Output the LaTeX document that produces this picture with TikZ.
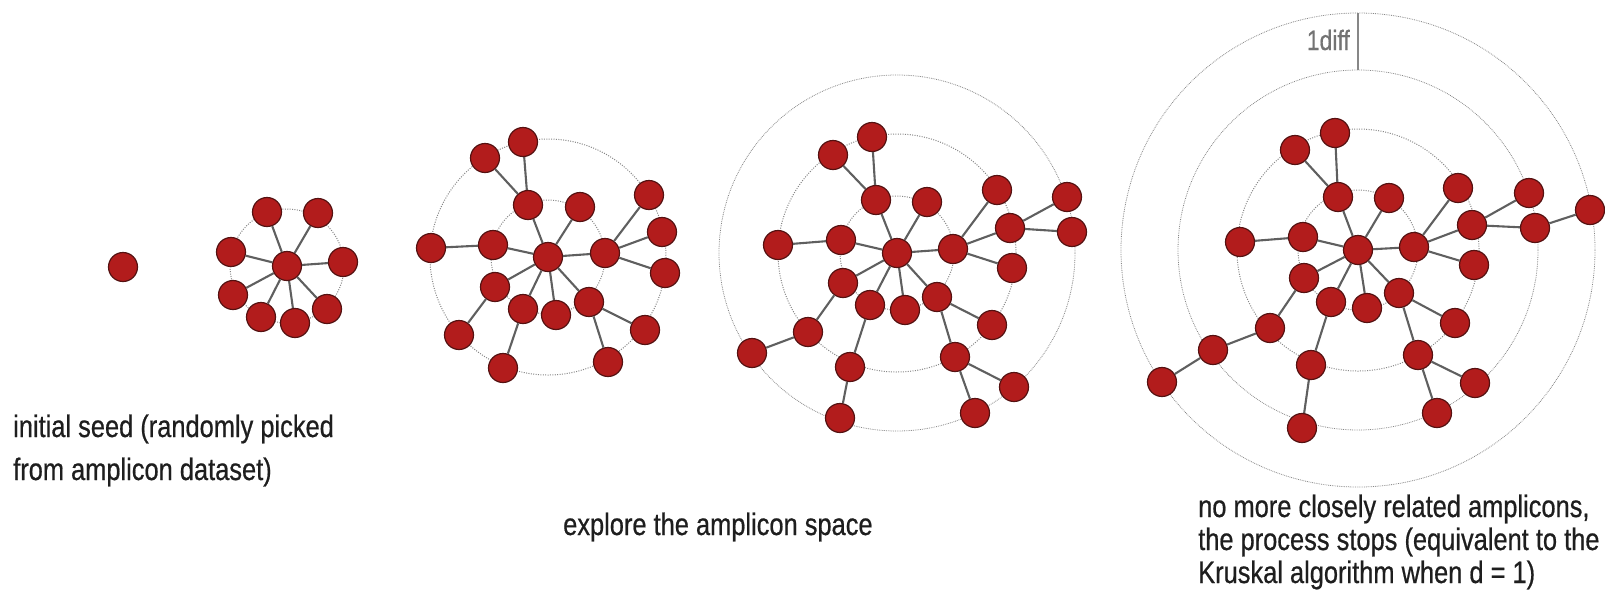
\documentclass[tikz,border=0pt]{standalone}
\usepackage{fontspec}
\usetikzlibrary{calc}
\setmainfont{Liberation Sans}[FakeStretch=0.82, FakeBold=0.6]
\definecolor{ampred}{RGB}{178,28,28}
\definecolor{ampdark}{RGB}{85,18,18}
\definecolor{edgegray}{RGB}{95,95,95}
\definecolor{ringgray}{RGB}{135,135,135}
\definecolor{txtgray}{RGB}{30,30,30}
\tikzset{
  amp/.style={circle, fill=ampred, draw=ampdark, line width=1.2pt, minimum size=29pt, inner sep=0pt},
  edge/.style={draw=edgegray, line width=2.1pt},
  ring/.style={draw=ringgray, line width=1pt, dash pattern=on 1pt off 1.4pt},
  outerring/.style={draw=ringgray, line width=0.8pt, dash pattern=on 0.8pt off 1pt},
  caption/.style={anchor=base west, inner sep=0pt, text=txtgray, font=\fontsize{31}{36}\selectfont},
}
\begin{document}
\begin{tikzpicture}[x=1pt,y=-1pt]
\useasboundingbox (0,0) rectangle (1605,600);

% centres for rings
\coordinate (c2) at (287,266);
\coordinate (c3) at (548,257);
\coordinate (c4) at (897,253);
\coordinate (c5) at (1358,250);

% rings
\draw[ring] (c2) circle (57);
\draw[ring] (c3) circle (57);
\draw[ring] (c3) circle (118);
\draw[ring] (c4) circle (57);
\draw[ring] (c4) circle (119);
\draw[outerring] (c4) circle (178);
\draw[ring] (c5) circle (60);
\draw[ring] (c5) circle (121);
\draw[outerring] (c5) circle (180);
\draw[outerring] (c5) circle (237);

% 1diff marker
\coordinate (d1) at ($(c5)+(0,-180)$);
\coordinate (d2) at ($(c5)+(0,-237)$);
\draw[draw=ringgray, line width=1.3pt] (d1) -- (d2);
\node[anchor=base east, inner sep=0pt, text=ringgray!85!black, font=\fontsize{28}{32}\selectfont] (diff) at (1350,50) {1diff};

% panel 1
\node[amp] (s) at (123,267) {};

% panel 2
\node[amp] (b0) at (287,266) {};
\foreach \n/\x/\y in {b1/267/212, b2/318/213, b3/231/252, b4/343/262, b5/233/295, b6/261/317, b7/295/323, b8/327/309}
  \node[amp] (\n) at (\x,\y) {};
\foreach \n in {b1,b2,b3,b4,b5,b6,b7,b8}
  \draw[edge] (b0) -- (\n);

% panel 3
\node[amp] (cC) at (548,257) {};
\foreach \n/\x/\y in {cup/528/205, cur/580/207, cl/493/245, cr/605/253, cll/495/287, cb1/523/309, cb2/556/315, clr/589/302,
  cotop/523/142, cotl/485/158, col/431/248, cor1/649/195, cor2/662/232, cor3/665/273, coll/459/335, cobl/503/368, cobr/608/362, corl/645/330}
  \node[amp] (\n) at (\x,\y) {};
\foreach \a/\b in {cC/cup, cC/cur, cC/cl, cC/cr, cC/cll, cC/cb1, cC/cb2, cC/clr,
  cup/cotop, cup/cotl, cl/col, cr/cor1, cr/cor2, cr/cor3, cll/coll, cb1/cobl, clr/cobr, clr/corl}
  \draw[edge] (\a) -- (\b);

% panel 4
\node[amp] (dC) at (897,253) {};
\foreach \n/\x/\y in {dup/876/200, dur/927/202, dl/841/240, dr/953/249, dll/843/283, db1/870/305, db2/905/310, dlr/937/297,
  dotop/872/137, dotl/833/155, dol/778/245, dor1/997/190, dorm/1010/228, dor3/1012/268, doll/808/332, dobl/850/367, dobrh/955/357, dorl/992/325,
  dtr1/1067/197, dtr2/1072/232, dtll/752/353, dtb/840/418, dtbr/975/413, dtrl/1014/387}
  \node[amp] (\n) at (\x,\y) {};
\foreach \a/\b in {dC/dup, dC/dur, dC/dl, dC/dr, dC/dll, dC/db1, dC/db2, dC/dlr,
  dup/dotop, dup/dotl, dl/dol, dr/dor1, dr/dorm, dr/dor3, dorm/dtr1, dorm/dtr2,
  dll/doll, doll/dtll, db1/dobl, dobl/dtb, dlr/dorl, dlr/dobrh, dobrh/dtbr, dobrh/dtrl}
  \draw[edge] (\a) -- (\b);

% panel 5
\node[amp] (eC) at (1358,250) {};
\foreach \n/\x/\y in {eup/1338/197, eur/1389/198, el/1303/237, er/1414/247, ell/1304/278, eb1/1331/302, eb2/1367/308, elr/1399/293,
  eotop/1335/133, eotl/1295/150, eol/1240/242, eor1/1458/188, eorm/1472/225, eor3/1474/265, eoll/1270/328, eobl/1311/365, eobrh/1418/355, eorl/1455/323,
  etr1/1529/193, etr2/1535/228, etll/1213/350, etb/1302/428, etbr/1437/413, etrl/1475/383,
  efll/1162/382, efr/1590/210}
  \node[amp] (\n) at (\x,\y) {};
\foreach \a/\b in {eC/eup, eC/eur, eC/el, eC/er, eC/ell, eC/eb1, eC/eb2, eC/elr,
  eup/eotop, eup/eotl, el/eol, er/eor1, er/eorm, er/eor3, eorm/etr1, eorm/etr2,
  ell/eoll, eoll/etll, eb1/eobl, eobl/etb, elr/eorl, elr/eobrh, eobrh/etbr, eobrh/etrl,
  etll/efll, etr2/efr}
  \draw[edge] (\a) -- (\b);

% captions
\node[caption] (t1a) at (13,437) {initial seed (randomly picked};
\node[caption] (t1b) at (13,480) {from amplicon dataset)};
\node[caption] (t2) at (563,535) {explore the amplicon space};
\node[caption] (t3a) at (1198,517) {no more closely related amplicons,};
\node[caption] (t3b) at (1198,550) {the process stops (equivalent to the};
\node[caption] (t3c) at (1198,583) {Kruskal algorithm when d = 1)};
\end{tikzpicture}
\end{document}
